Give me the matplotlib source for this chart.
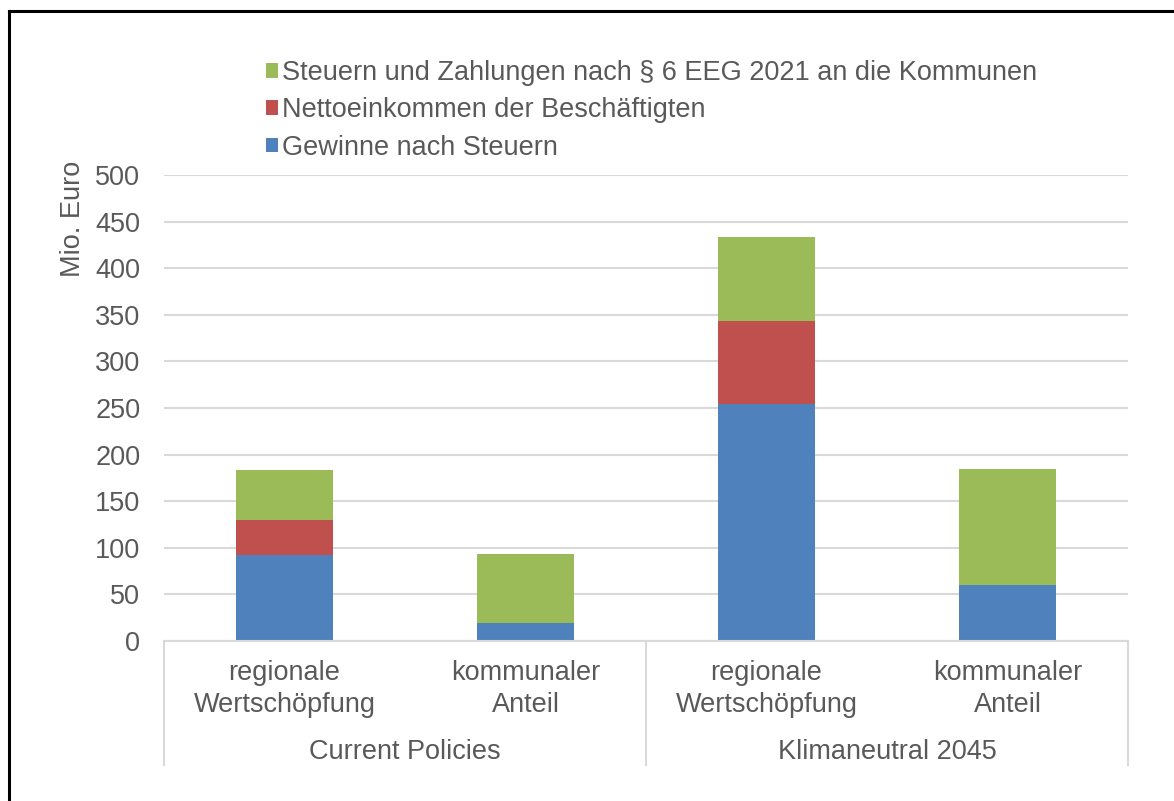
import matplotlib
matplotlib.use("Agg")
import matplotlib.pyplot as plt
from matplotlib.patches import Patch
from matplotlib.lines import Line2D

plt.rcParams['font.family'] = ['Liberation Sans', 'DejaVu Sans']

categories = ["regionale\nWertschöpfung", "kommunaler\nAnteil",
              "regionale\nWertschöpfung", "kommunaler\nAnteil"]
groups = ["Current Policies", "Klimaneutral 2045"]
gewinne = [92, 19, 254, 60]
netto = [38, 0, 89, 0]
steuern = [54, 74, 91, 125]
series_names = ["Gewinne nach Steuern", "Nettoeinkommen der Beschäftigten",
                "Steuern und Zahlungen nach § 6 EEG 2021 an die Kommunen"]
yticks = [0, 50, 100, 150, 200, 250, 300, 350, 400, 450, 500]

c_blue = "#4f81bd"
c_red = "#c0504d"
c_green = "#9bbb59"
txt = "#595959"
grid = "#d9d9d9"
FS = 19.5

W, H = 1174, 801
fig = plt.figure(figsize=(W/100, H/100), dpi=100)
ax = fig.add_axes([164/W, (H-641)/H, (1128-164)/W, (641-175)/H])

x = list(range(len(categories)))
bw = 0.4
b1 = [g + n for g, n in zip(gewinne, netto)]
ax.bar(x, gewinne, bw, color=c_blue, zorder=3)
ax.bar(x, netto, bw, bottom=gewinne, color=c_red, zorder=3)
ax.bar(x, steuern, bw, bottom=b1, color=c_green, zorder=3)

ax.set_xlim(-0.5, 3.5)
ax.set_ylim(0, 500)
ax.set_yticks(yticks)
ax.set_yticklabels([str(v) for v in yticks], fontsize=FS, color=txt)
ax.tick_params(axis='y', length=0, pad=17)
ax.set_xticks([])
ax.yaxis.grid(True, color=grid, linewidth=1.5, zorder=0)
for s in ['left', 'right', 'top']:
    ax.spines[s].set_visible(False)
ax.spines['bottom'].set_color(grid)
ax.spines['bottom'].set_linewidth(1.5)
ax.spines['bottom'].set_zorder(4)

tr = ax.get_xaxis_transform()
ax_h = 641 - 175
sep_bottom = -(765 - 641) / ax_h
for sx in [-0.5, 1.5, 3.5]:
    ax.plot([sx, sx], [0, sep_bottom], transform=tr, color=grid, lw=1.5, clip_on=False)

for xi, lab in zip(x, categories):
    ax.text(xi, -(689 - 641) / ax_h, lab, transform=tr, ha='center', va='center',
            fontsize=FS, color=txt, linespacing=1.32)
for gi, g in enumerate(groups):
    ax.text(0.5 + 2 * gi, -(752 - 641) / ax_h, g, transform=tr, ha='center', va='center',
            fontsize=FS, color=txt)

ax.text(-0.5 - 91/241, 1 - (219 - 175) / ax_h, "Mio. Euro", transform=tr,
        rotation=90, ha='center', va='center', fontsize=FS, color=txt)

handles = [Patch(facecolor=c_green), Patch(facecolor=c_red), Patch(facecolor=c_blue)]
labels = [series_names[2], series_names[1], series_names[0]]
leg = fig.legend(handles, labels, loc='upper left', bbox_to_anchor=(266/W, 1 - 60/H),
                 frameon=False, fontsize=FS, handlelength=0.45, handleheight=0.45,
                 handletextpad=0.15, labelspacing=0.42, borderaxespad=0, borderpad=0)
for t in leg.get_texts():
    t.set_color(txt)

# outer frame
fig.add_artist(Line2D([9/W, 1], [1 - 11/H, 1 - 11/H], color='black', lw=2.2, transform=fig.transFigure))
fig.add_artist(Line2D([9/W, 9/W], [0, 1 - 11/H], color='black', lw=2.2, transform=fig.transFigure))

fig.savefig("out.png", dpi=100)
